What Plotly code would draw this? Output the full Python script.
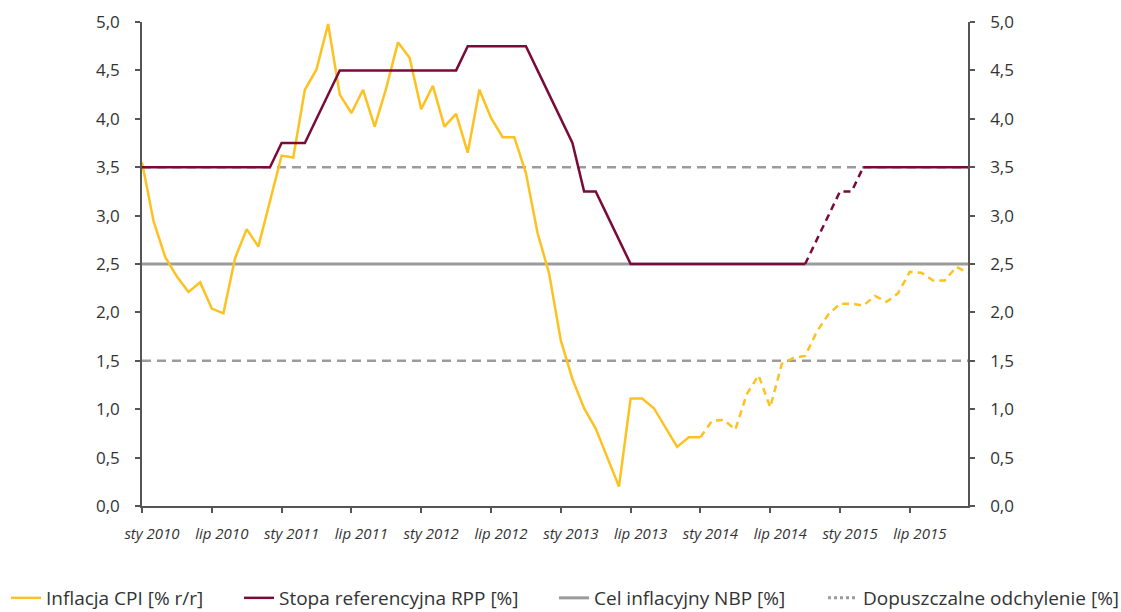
import plotly.graph_objects as go

# monthly data, sty 2010 .. gru 2015 (72 months)
months = list(range(72))
tick_idx = [0, 6, 12, 18, 24, 30, 36, 42, 48, 54, 60, 66]
tick_labels = ["sty 2010", "lip 2010", "sty 2011", "lip 2011", "sty 2012", "lip 2012",
               "sty 2013", "lip 2013", "sty 2014", "lip 2014", "sty 2015", "lip 2015"]

cpi = [3.55, 2.94, 2.57, 2.37, 2.21, 2.31, 2.04, 1.99, 2.56, 2.86, 2.68, 3.15,
       3.62, 3.60, 4.30, 4.51, 4.98, 4.25, 4.06, 4.30, 3.92, 4.32, 4.79, 4.63,
       4.10, 4.34, 3.92, 4.05, 3.65, 4.30, 4.01, 3.81, 3.81, 3.44, 2.82, 2.40,
       1.71, 1.31, 1.01, 0.80, 0.50, 0.20, 1.11, 1.11, 1.01, 0.81, 0.61, 0.71,
       0.71, 0.88, 0.89, 0.79, 1.16, 1.35, 1.02, 1.47, 1.53, 1.55, 1.80, 1.98,
       2.09, 2.09, 2.07, 2.17, 2.11, 2.20, 2.42, 2.41, 2.33, 2.33, 2.47, 2.41]

rate = [3.50, 3.50, 3.50, 3.50, 3.50, 3.50, 3.50, 3.50, 3.50, 3.50, 3.50, 3.50,
        3.75, 3.75, 3.75, 4.00, 4.25, 4.50, 4.50, 4.50, 4.50, 4.50, 4.50, 4.50,
        4.50, 4.50, 4.50, 4.50, 4.75, 4.75, 4.75, 4.75, 4.75, 4.75, 4.50, 4.25,
        4.00, 3.75, 3.25, 3.25, 3.00, 2.75, 2.50, 2.50, 2.50, 2.50, 2.50, 2.50,
        2.50, 2.50, 2.50, 2.50, 2.50, 2.50, 2.50, 2.50, 2.50, 2.50, 2.75, 3.00,
        3.25, 3.25, 3.50, 3.50, 3.50, 3.50, 3.50, 3.50, 3.50, 3.50, 3.50, 3.50]

cpi_forecast_from = 48          # CPI dashed from sty 2014
rate_dash_from, rate_dash_to = 57, 62   # rate dashed segment

target = 2.5
band_low, band_high = 1.5, 3.5

YELLOW = "#FDC221"
MAROON = "#7A0A3B"
GREY = "#9B9B9B"
AXIS = "#555555"
TEXT = "#333333"
FONT = "Open Sans"

cpi_solid = [v if i <= cpi_forecast_from else None for i, v in enumerate(cpi)]
cpi_dash = [v if i >= cpi_forecast_from else None for i, v in enumerate(cpi)]
rate_solid = [v if (i <= rate_dash_from or i >= rate_dash_to) else None for i, v in enumerate(rate)]
rate_dash = [v if rate_dash_from <= i <= rate_dash_to else None for i, v in enumerate(rate)]

fig = go.Figure()

# reference lines (main y axis, drawn below the series)
fig.add_trace(go.Scatter(x=months, y=[band_low] * len(months), mode="lines", showlegend=False,
                         line=dict(color=GREY, width=2.5, dash="9px,6px"), hoverinfo="skip"))
fig.add_trace(go.Scatter(x=months, y=[band_high] * len(months), mode="lines", showlegend=False,
                         line=dict(color=GREY, width=2.5, dash="9px,6px"), hoverinfo="skip"))
fig.add_trace(go.Scatter(x=months, y=[target] * len(months), mode="lines", name="Cel inflacyjny NBP [%]",
                         line=dict(color=GREY, width=3), legend="legend3"))
fig.add_trace(go.Scatter(x=[None], y=[None], mode="lines", name="Dopuszczalne odchylenie [%]",
                         line=dict(color=GREY, width=3, dash="3px,3px"), legend="legend4"))

# series on the overlaying axis so they sit on top
fig.add_trace(go.Scatter(x=months, y=cpi_solid, mode="lines", name="Inflacja CPI [% r/r]",
                         line=dict(color=YELLOW, width=2.5), yaxis="y2", legend="legend"))
fig.add_trace(go.Scatter(x=months, y=cpi_dash, mode="lines", showlegend=False,
                         line=dict(color=YELLOW, width=2.5, dash="7px,5px"), yaxis="y2"))
fig.add_trace(go.Scatter(x=months, y=rate_solid, mode="lines", name="Stopa referencyjna RPP [%]",
                         line=dict(color=MAROON, width=2.5), yaxis="y2", legend="legend2"))
fig.add_trace(go.Scatter(x=months, y=rate_dash, mode="lines", showlegend=False,
                         line=dict(color=MAROON, width=2.5, dash="7px,5px"), yaxis="y2"))

yax = dict(range=[0, 5], dtick=0.5, tickformat=".1f", showgrid=False, zeroline=False,
           showline=True, linecolor=AXIS, linewidth=1.5, ticks="outside", ticklen=5,
           tickcolor=AXIS, tickwidth=1.5, ticklabelstandoff=12, automargin=False,
           tickfont=dict(family=FONT, size=17, color=TEXT))

legend_base = dict(orientation="h", xref="container", yref="container",
                   yanchor="middle", y=(612 - 598) / 612, xanchor="left",
                   font=dict(family=FONT, size=19, color=TEXT), bgcolor="rgba(0,0,0,0)")

fig.update_layout(
    width=1121, height=612,
    margin=dict(l=142, r=153, t=22, b=106),
    plot_bgcolor="white", paper_bgcolor="white",
    separators=", ",
    showlegend=True,
    xaxis=dict(range=[0, 71], tickvals=tick_idx, ticktext=tick_labels, showgrid=False,
               zeroline=False, showline=True, linecolor=AXIS, linewidth=1.5,
               ticks="outside", ticklen=5, tickcolor=AXIS, tickwidth=1.5,
               ticklabelshift=10, ticklabelstandoff=8, automargin=False,
               tickfont=dict(family=FONT, size=15, color=TEXT, style="italic")),
    yaxis=yax,
    yaxis2=dict(yax, overlaying="y", side="right", matches="y"),
    legend=dict(legend_base, x=6 / 1121),
    legend2=dict(legend_base, x=239 / 1121),
    legend3=dict(legend_base, x=554 / 1121),
    legend4=dict(legend_base, x=823 / 1121),
)

fig.write_html("out.html", config={"displayModeBar": False},
               post_script="document.body.style.margin = '0';")
